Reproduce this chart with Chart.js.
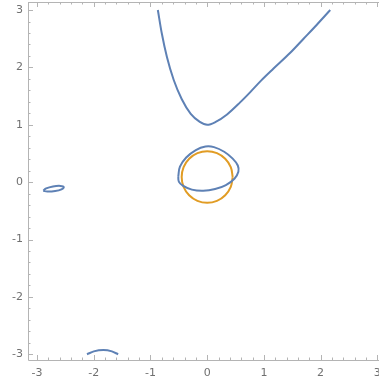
<!DOCTYPE html>
<html>
<head>
<meta charset="utf-8">
<script src="https://cdn.jsdelivr.net/npm/chart.js@4"></script>
<style>
  html, body { margin: 0; padding: 0; background: #fff; }
  #wrap { width: 379px; height: 384px; }
</style>
</head>
<body>
<div id="wrap"><canvas id="plot"></canvas></div>
<script>
// Konturdiagramm – zwei implizite Kurven

const xTicks = [-3, -2, -1, 0, 1, 2, 3];
const yTicks = [-3, -2, -1, 0, 1, 2, 3];

// blaue Kurve: oberer Ast
const upperBranch = [
  [-0.87, 3.0], [-0.80, 2.59], [-0.71, 2.18], [-0.59, 1.78], [-0.45, 1.45],
  [-0.29, 1.19], [-0.13, 1.05], [0.0, 1.0], [0.15, 1.05], [0.35, 1.18],
  [0.58, 1.39], [0.76, 1.57], [0.95, 1.77], [1.17, 1.98], [1.46, 2.25],
  [1.70, 2.50], [1.93, 2.74], [2.17, 3.0],
];

// blaue Kurve: Schleife um den Ursprung
const centerLoop = [
  [-0.51, 0.10], [-0.48, 0.27], [-0.37, 0.43], [-0.20, 0.56], [-0.03, 0.62],
  [0.12, 0.61], [0.30, 0.53], [0.45, 0.41], [0.54, 0.29], [0.55, 0.18],
  [0.48, 0.06], [0.33, -0.05], [0.14, -0.12], [-0.07, -0.15], [-0.27, -0.13],
  [-0.43, -0.06], [-0.50, 0.01], [-0.51, 0.10],
];

// blaue Kurve: kleine Schleife links
const leftLoop = [
  [-2.89, -0.15], [-2.84, -0.11], [-2.72, -0.075], [-2.59, -0.065], [-2.53, -0.085],
  [-2.57, -0.125], [-2.68, -0.155], [-2.82, -0.165], [-2.89, -0.15],
];

// blaue Kurve: Bogen unten
const bottomArc = [
  [-2.12, -3.0], [-2.0, -2.95], [-1.83, -2.925], [-1.68, -2.95], [-1.57, -3.0],
];

// orange Kurve: Kreis
const orangeCircle = [
  [0.45, 0.09], [0.416, 0.262], [0.318, 0.408], [0.172, 0.506], [0.0, 0.54],
  [-0.172, 0.506], [-0.318, 0.408], [-0.416, 0.262], [-0.45, 0.09],
  [-0.416, -0.082], [-0.318, -0.228], [-0.172, -0.326], [0.0, -0.36],
  [0.172, -0.326], [0.318, -0.228], [0.416, -0.082], [0.45, 0.09],
];

const BLUE = '#5e81b5';
const ORANGE = '#e19c24';
const FRAME = '#b4b4b4';
const LABEL = '#707070';

const toPts = arr => arr.map(([x, y]) => ({ x, y }));
const curve = (pts, color, mode = 'default') => ({
  data: toPts(pts),
  showLine: true,
  borderColor: color,
  borderWidth: 2,
  pointRadius: 0,
  tension: 0.4,
  cubicInterpolationMode: mode,
  fill: false,
});

// Rahmen mit nach innen gerichteten Haupt- und Nebenstrichen (wie Mathematica)
const framePlugin = {
  id: 'frame',
  afterDatasetsDraw(chart) {
    const { ctx, chartArea: a, scales: { x, y } } = chart;
    ctx.save();
    ctx.strokeStyle = FRAME;
    ctx.lineWidth = 1;
    ctx.beginPath();
    ctx.moveTo(a.left + 0.5, a.top + 0.5);
    ctx.lineTo(a.right, a.top + 0.5);
    ctx.moveTo(a.left + 0.5, a.top);
    ctx.lineTo(a.left + 0.5, a.bottom + 0.5);
    ctx.lineTo(a.right, a.bottom + 0.5);
    ctx.stroke();
    ctx.beginPath();
    for (let v = -3; v <= 3.001; v += 0.2) {
      const major = Math.abs(v - Math.round(v)) < 1e-6;
      const len = major ? 5 : 2.5;
      const px = Math.round(x.getPixelForValue(v)) + 0.5;
      if (px >= a.left && px <= a.right) {
        ctx.moveTo(px, a.bottom); ctx.lineTo(px, a.bottom - len);
        ctx.moveTo(px, a.top); ctx.lineTo(px, a.top + len);
      }
      const py = Math.round(y.getPixelForValue(v)) + 0.5;
      ctx.moveTo(a.left, py); ctx.lineTo(a.left + len, py);
    }
    ctx.stroke();
    ctx.restore();
  },
};

new Chart(document.getElementById('plot'), {
  type: 'scatter',
  data: {
    datasets: [
      curve(upperBranch, BLUE, 'monotone'),
      curve(centerLoop, BLUE),
      curve(leftLoop, BLUE),
      curve(bottomArc, BLUE, 'monotone'),
      curve(orangeCircle, ORANGE),
    ],
  },
  options: {
    responsive: true,
    maintainAspectRatio: false,
    animation: false,
    layout: { padding: { top: 2, right: 0, left: 0, bottom: 0 } },
    plugins: { legend: { display: false }, tooltip: { enabled: false } },
    scales: {
      x: {
        type: 'linear',
        min: -3.16,
        max: 3.03,
        afterBuildTicks: s => { s.ticks = xTicks.map(v => ({ value: v })); },
        afterFit: s => { s.height = 24; s.paddingLeft = 0; s.paddingRight = 0; },
        grid: { display: false, drawTicks: false },
        border: { display: false },
        ticks: { color: LABEL, font: { family: 'DejaVu Sans', size: 11 }, padding: 7, maxRotation: 0,
          callback: v => String(v) },
      },
      y: {
        type: 'linear',
        min: -3.1,
        max: 3.14,
        afterBuildTicks: s => { s.ticks = yTicks.map(v => ({ value: v })); },
        afterFit: s => { s.width = 28; s.paddingTop = 0; s.paddingBottom = 0; },
        grid: { display: false, drawTicks: false },
        border: { display: false },
        ticks: { color: LABEL, font: { family: 'DejaVu Sans', size: 11 }, padding: 5,
          callback: v => String(v) },
      },
    },
  },
  plugins: [framePlugin],
});
</script>
</body>
</html>
